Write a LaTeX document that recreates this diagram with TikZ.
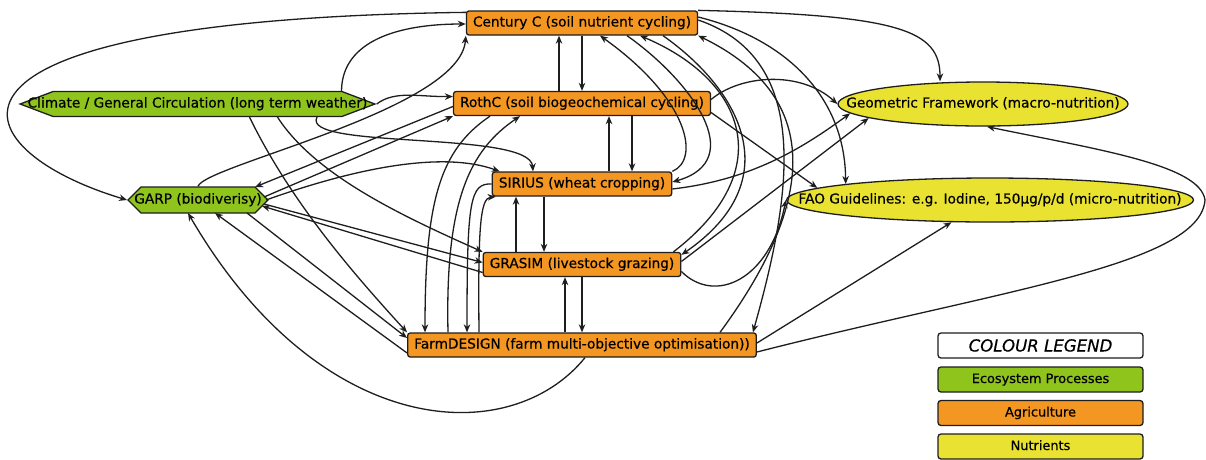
\documentclass[tikz,border=0pt]{standalone}
\usepackage{fontspec}
\setmainfont[FakeBold=0.5]{DejaVu Sans}
\usepackage{xcolor}
\usepackage{tikz}
\usetikzlibrary{positioning,arrows.meta,shapes.geometric,shapes.symbols}

\definecolor{ecogreen}{RGB}{143,196,28}
\definecolor{agriorange}{RGB}{244,150,34}
\definecolor{nutyellow}{RGB}{234,226,48}
\definecolor{edgegrey}{RGB}{30,30,30}

\newcommand{\boxfont}{\fontsize{13.7pt}{16pt}\selectfont}
\newcommand{\keyfont}{\fontsize{12.9pt}{15pt}\selectfont}

\begin{document}
\begin{tikzpicture}[x=1pt,y=-1pt,>={Stealth[length=8pt,width=6.5pt,inset=2.5pt]},
    every node/.style={on grid,node distance=80.5pt,font=\boxfont,text=black,text height=10pt,text depth=3pt},
    agri/.style={draw=edgegrey,line width=1.3pt,fill=agriorange,rounded corners=2.5pt,inner xsep=6.5pt,inner ysep=5.5pt},
    eco/.style={draw=edgegrey,line width=1.3pt,fill=ecogreen,signal,signal to=west and east,inner ysep=6pt},
    nutr/.style={draw=edgegrey,line width=1.3pt,fill=nutyellow,ellipse,inner sep=-60pt,minimum height=44pt},
    key/.style={draw=edgegrey,line width=1.3pt,rounded corners=3pt,minimum width=205pt,minimum height=25pt,inner sep=0pt,font=\keyfont},
    link/.style={->,line width=1.3pt,draw=edgegrey}]
    \path[use as bounding box,fill=white] (0,0) rectangle (1206,459);

    % models
    \node[agri] (cent) at (582,23) {Century C (soil nutrient cycling)};
    \node[agri,below of=cent] (roth) {RothC (soil biogeochemical cycling)};
    \node[agri,below of=roth] (sir) {SIRIUS (wheat cropping)};
    \node[agri,below of=sir] (gra) {GRASIM (livestock grazing)};
    \node[agri,below of=gra] (farm) {FarmDESIGN (farm multi-objective optimisation))};
    \node[eco,signal pointer angle=41.5,inner xsep=-25.5pt] (clim) at (197.5,104) {Climate / General Circulation (long term weather)};
    \node[eco,inner xsep=-6.7pt,inner ysep=6.5pt] (garp) at (198,200) {GARP (biodiverisy)};
    \node[nutr,minimum width=290pt] (geo) at (983,104) {Geometric Framework (macro-nutrition)};
    \node[nutr,minimum width=407pt] (fao) at (990,200) {FAO Guidelines: e.g. Iodine, 150µg/p/d (micro-nutrition)};

    % legend
    \node[key,fill=white,text height=12pt,text depth=0pt,font=\fontsize{16.6pt}{19pt}\selectfont\itshape] (keytitle) at (1040.5,345.5) {COLOUR LEGEND};
    \node[key,fill=ecogreen,node distance=34pt,below of=keytitle] (keyeco) {Ecosystem Processes};
    \node[key,fill=agriorange,node distance=33.5pt,below of=keyeco] (keyagri) {Agriculture};
    \node[key,fill=nutyellow,node distance=33.5pt,below of=keyagri] (keynutr) {Nutrients};

    % chain
    \draw[link] ([xshift=-23pt]roth.north) -- ([xshift=-23pt]cent.south);
    \draw[link] (cent.south) -- (roth.north);
    \draw[link] ([xshift=27pt]sir.north) -- ([xshift=27pt]roth.south);
    \draw[link] ([xshift=50pt]roth.south) -- ([xshift=50pt]sir.north);
    \draw[link] ([xshift=-66pt]gra.north) -- ([xshift=-66pt]sir.south);
    \draw[link] ([xshift=-38pt]sir.south) -- ([xshift=-38pt]gra.north);
    \draw[link] ([xshift=-17pt]farm.north) -- ([xshift=-17pt]gra.south);
    \draw[link] (gra.south) -- (farm.north);

    % climate and garp
    \draw[link] ([yshift=-2pt]cent.north west) .. controls (-110,20) and (-40,150) .. (garp.west);
    \draw[link] ([xshift=144pt]clim.north) .. controls (342,40) and (400,24) .. ([yshift=-1pt]cent.west);
    \draw[link] (clim.east) .. controls (395,90) and (420,97) .. ([yshift=7pt]roth.west);
    \draw[link] ([xshift=119.5pt]clim.south) .. controls (300,150) and (530,130) .. ([xshift=-49pt]sir.north);
    \draw[link] ([xshift=80pt]clim.south) .. controls (315,175) and (400,215) .. (gra.north west);
    \draw[link] ([xshift=52pt]clim.south) .. controls (290,200) and (350,270) .. (farm.north west);
    \draw[link] (garp.north) .. controls (205,165) and (460,110) .. (cent.south west);
    \draw[link] ([yshift=-3pt]roth.west) -- ([xshift=57pt,yshift=13pt]garp.center);
    \draw[link] ([xshift=66pt,yshift=3pt]garp.center) -- (roth.south west);
    \draw[link] ([xshift=68pt]garp.center) .. controls (350,170) and (440,150) .. ([xshift=8pt]sir.north west);
    \draw[link] ([xshift=66pt,yshift=-4pt]garp.center) -- ([yshift=2pt]gra.west);
    \draw[link] ([yshift=-8pt]gra.west) -- ([xshift=64pt,yshift=-6pt]garp.center);
    \draw[link] ([xshift=49pt,yshift=-13pt]garp.center) -- ([yshift=7pt]farm.west);
    \draw[link] ([yshift=-8pt]farm.west) -- ([xshift=17pt,yshift=-13pt]garp.center);
    \draw[link] ([xshift=3pt]farm.south) .. controls (510,450) and (320,440) .. ([xshift=-10pt,yshift=-13pt]garp.center);

    % farm top
    \draw[link] ([xshift=-92pt]roth.south) .. controls (440,150) and (425,200) .. ([xshift=-157pt]farm.north);
    \draw[link] ([xshift=-134pt]farm.north) .. controls (445,200) and (470,150) .. ([xshift=-62pt]roth.south);
    \draw[link] (sir.west) .. controls (470,183) and (467,200) .. ([xshift=-115pt]farm.north);
    \draw[link] ([xshift=-103pt]farm.north) .. controls (478,230) and (480,198) .. ([xshift=4pt]sir.south west);

    % right side
    \draw[link] ([xshift=45pt]cent.south) .. controls (690,80) and (750,160) .. ([yshift=2pt]sir.east);
    \draw[link] (sir.north east) .. controls (700,160) and (690,100) .. ([xshift=18pt]cent.south);
    \draw[link] ([xshift=-8pt]gra.north east) .. controls (780,170) and (745,80) .. ([xshift=58pt]cent.south);
    \draw[link] ([xshift=81pt]cent.south) .. controls (740,90) and (790,180) .. ([yshift=-3pt]gra.north east);
    \draw[link] ([yshift=3pt]cent.east) .. controls (815,60) and (790,200) .. ([xshift=-4pt]farm.north east);
    \draw[link] ([xshift=138pt]farm.north) .. controls (810,210) and (830,100) .. (cent.south east);
    \draw[link] ([yshift=6pt]cent.east) .. controls (790,40) and (845,100) .. (fao.north west);
    \draw[link] (cent.north east) .. controls (900,15) and (940,30) .. ([xshift=-43pt]geo.north);
    \draw[link] ([yshift=4pt]roth.east) .. controls (740,75) and (800,70) .. (geo.west);
    \draw[link] ([yshift=-9pt]roth.east) -- (fao.176);
    \draw[link] ([yshift=-5pt]sir.east) .. controls (750,180) and (800,150) .. (geo.184);
    \draw[link] ([yshift=3pt]gra.east) -- (geo.187);
    \draw[link] ([yshift=-7pt]gra.east) .. controls (715,305) and (770,280) .. (fao.west);
    \draw[link] ([yshift=2pt]farm.east) -- (fao.210);
    \draw[link] ([yshift=-7pt]farm.east) .. controls (1000,290) and (1200,265) .. (1205,200) .. controls (1200,165) and (1100,150) .. ([xshift=4pt]geo.south);
\end{tikzpicture}
\end{document}
